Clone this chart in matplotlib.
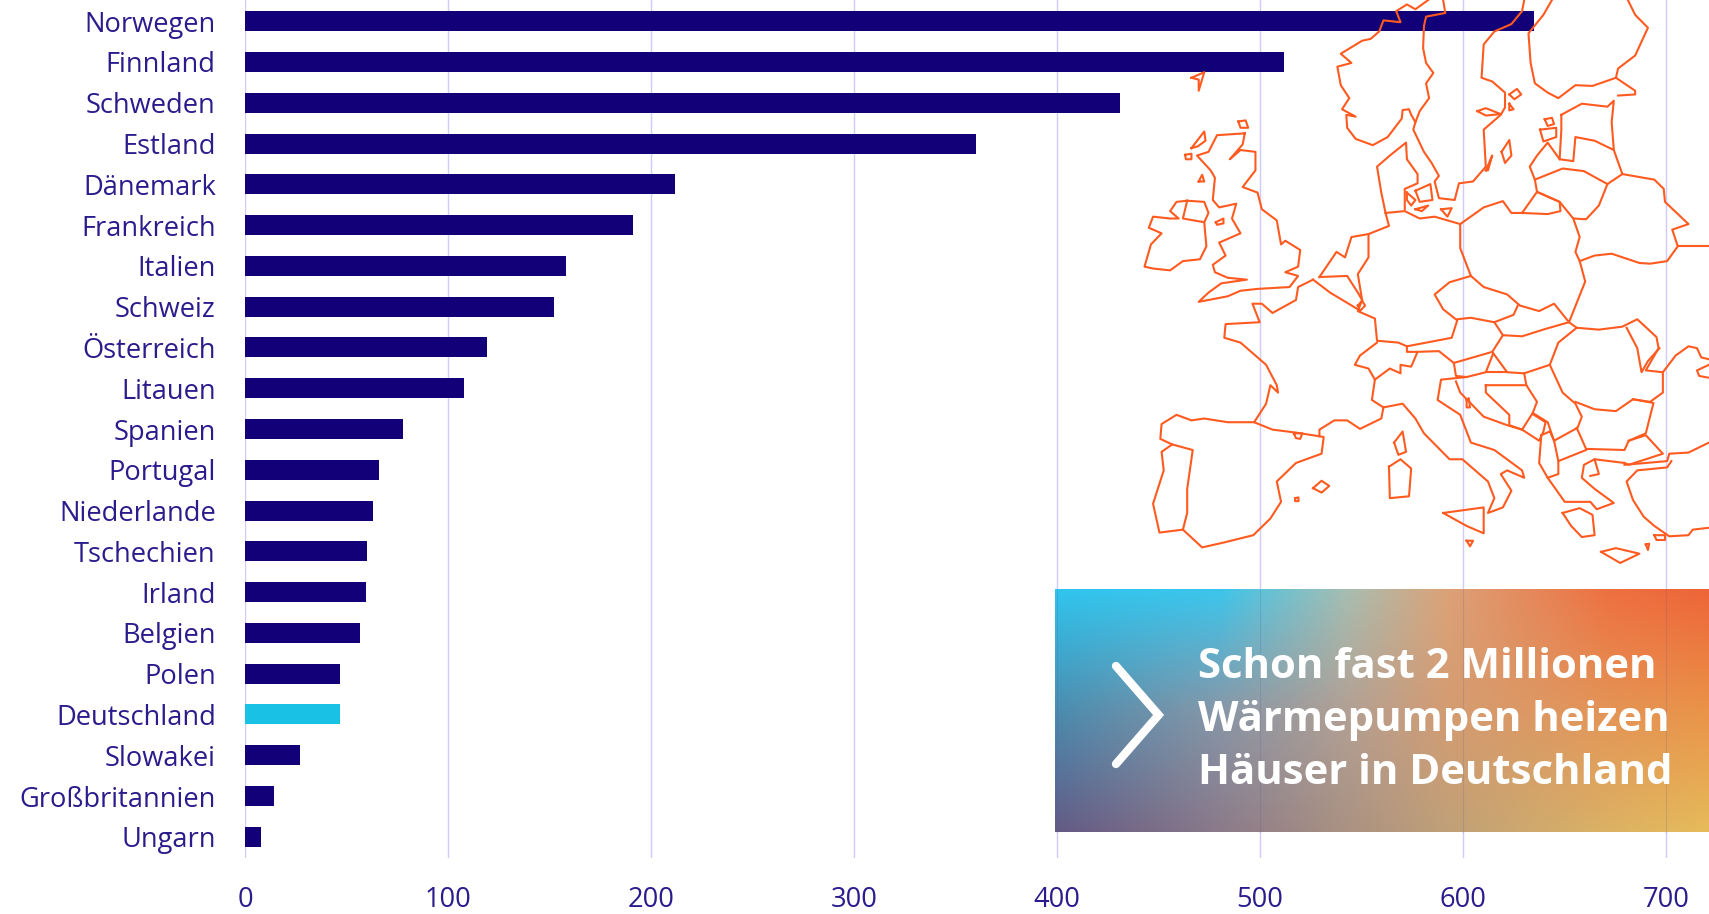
import numpy as np
import matplotlib
matplotlib.use("Agg")
import matplotlib.pyplot as plt
from matplotlib.colors import to_rgb

plt.rcParams['font.family'] = ['Open Sans', 'DejaVu Sans']

countries = ["Norwegen", "Finnland", "Schweden", "Estland", "Dänemark", "Frankreich", "Italien",
             "Schweiz", "Österreich", "Litauen", "Spanien", "Portugal", "Niederlande", "Tschechien",
             "Irland", "Belgien", "Polen", "Deutschland", "Slowakei", "Großbritannien", "Ungarn"]
values = [635, 512, 431, 360, 212, 191, 158, 152, 119, 108, 78, 66, 63, 60.3, 59.8, 56.5, 47, 47, 27, 14.5, 8]
highlight = "Deutschland"
xticks = [0, 100, 200, 300, 400, 500, 600, 700]
callout = "Schon fast 2 Millionen\nWärmepumpen heizen\nHäuser in Deutschland"

NAVY = "#120078"; CYAN = "#19C1E5"; GRID = "#CFCBFA"; TEXT = "#2A1C8C"; ORANGE = "#FF5A1F"

W, H = 1709, 914
fig = plt.figure(figsize=(W / 100, H / 100), dpi=100, facecolor="white")
ax = fig.add_axes([245 / W, (H - 858) / H, (W - 245) / W, 858 / H])
ax.set_xlim(0, (W - 245) / 2.03)
ax.set_ylim(20.52, -0.52)
ax.set_axisbelow(True)
ax.barh(range(len(countries)), values, height=0.49,
        color=[CYAN if c == highlight else NAVY for c in countries], zorder=3)
ax.set_yticks(range(len(countries)))
ax.set_yticklabels(countries, fontsize=19.6, color=TEXT)
ax.set_xticks(xticks)
ax.set_xticklabels([str(v) for v in xticks], fontsize=19.6, color=TEXT)
ax.tick_params(axis="y", length=0, pad=21)
ax.tick_params(axis="x", length=0, pad=20)
for lab in ax.get_yticklabels():
    lab.set_y(lab.get_position()[1])
ax.grid(axis="x", color=GRID, lw=1.0, zorder=1)
ax.grid(axis="y", visible=False)
for s in ax.spines.values():
    s.set_visible(False)

# overlay in pixel coordinates
ov = fig.add_axes([0, 0, 1, 1], facecolor="none")
ov.set_xlim(0, W); ov.set_ylim(H, 0); ov.axis("off")

# decorative map outline, traced in crop coordinates
map_lines = [
 [(945,0),(950,35),(905,45),(900,70),(898,130),(905,170),(922,197),(905,225),(912,265),(890,300),(880,330),(870,310),(865,295),(850,297),(848,320),(815,370),(780,392),(740,375),(720,345),(718,310),(740,315),(708,295),(725,265),(705,230),(697,180),(730,170),(705,145),(755,110),(775,105),(795,85),(805,55),(845,60),(835,30),(860,12),(880,25),(910,0)],
 [(880,330),(875,350),(900,410),(918,440),(935,475),(925,490),(935,535),(972,540),(982,495),(1015,490),(1045,450),(1040,350),(1080,310),(1090,290),(1090,250),(1060,220),(1035,210),(1040,120),(1065,85),(1105,65),(1130,30),(1135,0)],
 [(1200,0),(1180,40),(1145,90),(1150,170),(1160,225),(1190,250),(1215,265),(1255,230),(1295,232),(1350,210),(1395,245),(1395,255),(1355,258)],
 [(1350,210),(1355,185),(1395,150),(1425,75),(1395,40),(1378,0)],
 [(1082,410),(1100,378),(1105,420),(1090,440),(1082,410)],
 [(1045,460),(1060,420),(1050,460),(1045,460)],
 [(1100,255),(1118,240),(1128,255),(1112,268),(1100,255)],
 [(1100,280),(1110,295),(1100,298),(1100,280)],
 [(1025,300),(1045,292),(1080,308),(1045,312),(1025,300)],
 [(355,210),(385,195),(372,245),(372,215),(355,210)],
 [(1222,310),(1270,280),(1330,288),(1345,272),(1340,330),(1345,405),(1300,380),(1255,370),(1250,435),(1218,430),(1222,350),(1222,310)],
 [(1172,350),(1210,345),(1210,370),(1180,382),(1172,350)],
 [(1183,322),(1200,318),(1205,335),(1190,340),(1183,322)],
 [(1218,430),(1190,385),(1165,420),(1148,450),(1160,485),(1225,455),(1275,462),(1330,497),(1365,470),(1345,405)],
 [(1160,485),(1165,518),(1218,545),(1250,590),(1280,592),(1310,555),(1330,497)],
 [(1130,575),(1165,518),(1218,545),(1220,570),(1190,578),(1130,575)],
 [(1365,470),(1440,485),(1462,510),(1465,545),(1520,605),(1482,620),(1495,665),(1470,705),(1430,712),(1405,710),(1340,685),(1300,690),(1265,705),(1255,680),(1265,640),(1250,590)],
 [(1495,665),(1568,665)],
 [(1130,575),(1105,575),(1085,543),(1040,560),(985,605),(985,670),(1010,745),(1040,775),(1095,795),(1125,825),(1170,840),(1205,820),(1240,870),(1278,760),(1265,705)],
 [(810,575),(855,570),(890,590),(925,585),(985,605)],
 [(810,575),(818,610),(770,632),(770,695),(745,740),(755,810),(745,840),(785,860),(790,920),(840,925),(860,935),(965,912),(978,865),(945,835),(925,795),(960,762),(1010,745)],
 [(978,862),(1010,858),(1065,870),(1110,850),(1120,825)],
 [(1240,870),(1185,888),(1130,908),(1085,905),(1065,870)],
 [(860,935),(860,950),(885,950),(935,948),(970,980),(1060,950),(1085,905)],
 [(1060,950),(1095,1005),(1135,1008),(1195,985),(1215,925),(1258,885),(1240,870)],
 [(970,980),(975,1015),(1000,1018),(1045,1005),(1062,955)],
 [(975,1030),(985,1060),(1040,1125),(1095,1148),(1130,1160)],
 [(1045,1005),(1095,1005)],
 [(1045,1040),(1140,1040),(1165,1085),(1155,1115),(1130,1160),(1100,1148),(1100,1120),(1045,1060),(1045,1040)],
 [(1135,1008),(1140,1040)],
 [(1195,985),(1225,1060),(1255,1090),(1270,1125),(1260,1155),(1205,1190),(1190,1140),(1155,1115)],
 [(1258,885),(1310,890),(1365,882),(1400,862),(1445,910),(1450,940),(1420,1000),(1460,1005),(1460,1060),(1430,1085),(1390,1078),(1350,1110),(1300,1105),(1255,1085)],
 [(1375,885),(1400,940),(1410,1005),(1425,975),(1452,940)],
 [(1390,1078),(1438,1088),(1420,1170),(1380,1190),(1370,1215),(1280,1212),(1258,1155)],
 [(1205,1190),(1215,1245),(1280,1215)],
 [(1155,1118),(1185,1140),(1180,1165),(1170,1190),(1130,1160)],
 [(1175,1175),(1195,1165),(1205,1190)],
 [(1175,1175),(1170,1250),(1190,1290),(1215,1280),(1215,1245)],
 [(1190,1290),(1230,1355),(1290,1355),(1305,1375),(1345,1358),(1300,1320),(1270,1290),(1275,1255),(1300,1240),(1310,1280),(1290,1285)],
 [(1300,1240),(1370,1250)],
 [(1225,1385),(1265,1372),(1295,1390),(1300,1445),(1270,1450),(1245,1420),(1225,1385)],
 [(1315,1490),(1350,1480),(1405,1495),(1360,1520),(1315,1490)],
 [(1420,1470),(1428,1468),(1425,1485),(1420,1470)],
 [(1440,1445),(1465,1445),(1465,1458),(1445,1458),(1440,1445)],
 [(1370,1255),(1470,1245),(1475,1225),(1520,1222),(1568,1195)],
 [(1568,1425),(1530,1430),(1520,1445),(1475,1448),(1440,1420),(1415,1395),(1390,1350),(1375,1300),(1400,1270),(1470,1262),(1480,1245)],
 [(1380,1190),(1420,1175),(1460,1225),(1380,1255),(1370,1250)],
 [(1460,1005),(1490,960),(1520,935),(1540,940),(1550,965),(1568,970)],
 [(1568,985),(1540,1000),(1545,1015),(1568,1020)],
 [(790,925),(750,960),(738,985),(770,995),(785,1025),(820,995),(845,1008),(845,985),(870,990),(885,950)],
 [(785,1025),(778,1080),(805,1100),(850,1090),(880,1130),(900,1170),(960,1240),(990,1240),(1050,1300),(1065,1345),(1050,1385),(1085,1370),(1105,1325),(1080,1280),(1095,1270),(1135,1290),(1130,1270),(1065,1215),(1010,1195),(985,1120),(932,1080),(940,1025),(1000,1018)],
 [(945,1385),(1040,1370),(1040,1440),(1000,1420),(945,1385)],
 [(818,1260),(845,1240),(870,1265),(865,1340),(820,1345),(818,1260)],
 [(830,1195),(850,1165),(858,1220),(840,1228),(830,1195)],
 [(1000,1080),(1005,1075),(1008,1100),(1000,1100),(1000,1080)],
 [(1000,1460),(1015,1460),(1008,1475),(1000,1460)],
 [(640,755),(605,775),(600,810),(545,845),(520,820),(498,820),(515,870),(435,875),(432,912),(470,925),(530,985),(555,1040),(558,1060),(540,1040),(530,1090),(502,1140),(545,1160),(600,1168),(655,1178),(655,1160),(690,1135),(720,1135),(750,1158),(800,1130),(805,1100)],
 [(640,755),(680,790),(745,835)],
 [(655,748),(720,745),(745,790),(755,810)],
 [(655,748),(695,680),(715,695),(730,640),(770,632)],
 [(745,825),(755,812),(762,825),(750,840),(745,825)],
 [(502,1140),(440,1140),(385,1130),(355,1135),(320,1120),(285,1145),(282,1185),(310,1200),(358,1215),(345,1320),(345,1385),(335,1430),(380,1478),(430,1465),(500,1445),(540,1400),(565,1355),(555,1300),(600,1250),(660,1225),(665,1180),(655,1178)],
 [(310,1200),(285,1220),(290,1270),(265,1360),(280,1438),(335,1430)],
 [(595,1170),(615,1170),(610,1185),(600,1183),(595,1170)],
 [(640,1318),(660,1298),(678,1312),(660,1330),(640,1318)],
 [(598,1345),(606,1343),(606,1353),(598,1353),(598,1345)],
 [(480,360),(415,365),(395,410),(368,420),(400,460),(410,480),(405,540),(420,560),(460,550),(450,590),(470,630),(420,655),(435,690),(405,715),(410,735),(440,750),(485,755),(425,765),(395,790),(372,815),(440,800),(470,785),(510,780),(585,775),(605,745),(575,735),(605,720),(610,675),(575,650),(565,660),(555,595),(520,565),(510,520),(475,505),(505,460),(505,410),(470,405),(445,430),(475,390),(480,360)],
 [(345,542),(320,545),(305,570),(325,590),(305,590),(265,585),(255,615),(285,630),(260,660),(245,720),(265,725),(305,730),(335,705),(375,700),(390,665),(385,600)],
 [(345,542),(385,545),(395,575),(385,600),(335,590),(345,542)],
 [(412,600),(430,590),(430,603),(415,607),(412,600)],
 [(465,328),(482,325),(488,345),(470,345),(465,328)],
 [(355,400),(385,355),(388,380),(370,395),(355,400)],
 [(340,418),(355,415),(355,430),(342,430),(340,418)],
 [(372,490),(380,472),(385,490),(372,490)],
 [(810,575),(800,520),(790,450),(820,420),(858,385),(860,430),(885,470),(885,495),(855,510),(855,565)],
 [(880,515),(915,497),(920,540),(890,545),(880,515)],
 [(860,520),(880,540),(870,555),(860,540),(860,520)],
 [(880,565),(910,555),(895,570),(880,565)],
 [(940,565),(965,562),(955,585),(940,565)],
]
for seg in map_lines:
    a = np.array(seg, float)
    ov.plot(1040 + a[:, 0] / 2.344, a[:, 1] / 2.7, color=ORANGE, lw=1.5,
            solid_joinstyle="round", zorder=2)

# gradient panel
panel_x = [0, 0.25, 0.45, 0.6, 0.85, 1]
panel_y = [0, 0.5, 1]
panel_colors = [
    ["#30C5EE", "#3CC5EC", "#A9BDB0", "#DCA278", "#EE7040", "#EE6538"],
    ["#4A8CAF", "#8797A8", "#B3A094", "#D49C72", "#E49456", "#EA9348"],
    ["#635A85", "#8B7A8A", "#AB9282", "#C0A078", "#DCB264", "#E6BB5A"],
]
rgb = np.array([[to_rgb(c) for c in row] for row in panel_colors])
u = np.linspace(0, 1, 327); v = np.linspace(0, 1, 122)
horiz = np.stack([[np.interp(u, panel_x, rgb[r, :, ch]) for ch in range(3)] for r in range(3)])
img = np.stack([[np.interp(v, panel_y, horiz[:, ch, i]) for i in range(len(u))] for ch in range(3)], axis=-1)
img = np.transpose(img, (1, 0, 2))
ov.imshow(img, extent=(1055, W, 832, 589.5), aspect="auto", interpolation="bicubic", zorder=3)
ov.set_xlim(0, W); ov.set_ylim(H, 0)
for t in xticks:
    px = 245 + t * 2.03
    if px > 1055:
        ov.plot([px, px], [589.5, 832], color="#5A4FA0", lw=0.8, alpha=0.18, zorder=4)

ov.plot([1116, 1158.6, 1116], [666, 715, 764], color="white", lw=6, zorder=5,
        solid_capstyle="round", solid_joinstyle="miter")
for line, base in zip(callout.split("\n"), [678, 731, 784]):
    ov.text(1198.5, base, line, color="white", fontsize=30.2, fontweight="bold",
            va="baseline", ha="left", zorder=5)

fig.savefig("out.png", dpi=100)
